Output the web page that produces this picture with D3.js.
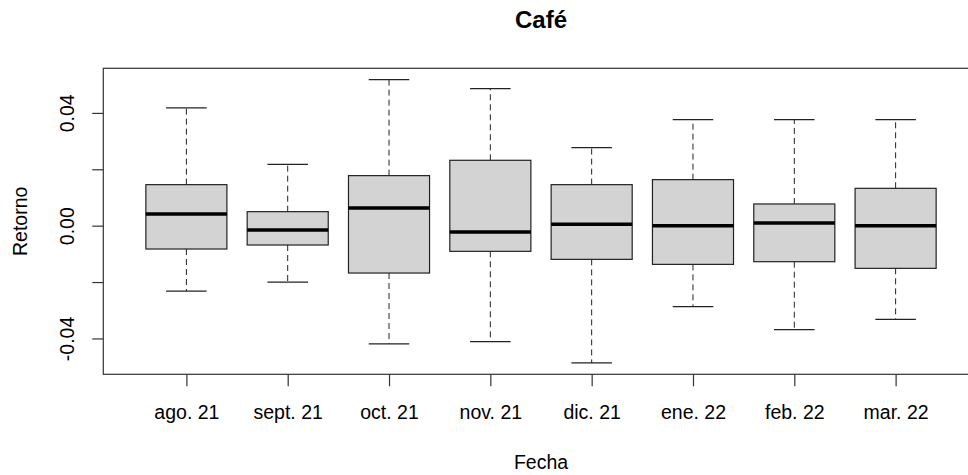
<!DOCTYPE html>
<html>
<head>
<meta charset="utf-8">
<script src="https://cdn.jsdelivr.net/npm/d3@7"></script>
<style>
  html, body { margin: 0; padding: 0; background: #fff; }
  text { font-family: "Liberation Sans", Arial, sans-serif; fill: #000; }
</style>
</head>
<body>
<svg id="chart" width="968" height="475"></svg>
<script>
const categories = ["ago. 21", "sept. 21", "oct. 21", "nov. 21", "dic. 21", "ene. 22", "feb. 22", "mar. 22"];
const whiskerHigh = [0.0418, 0.02177, 0.0518, 0.0486, 0.02768, 0.03762, 0.03762, 0.03762];
const q3 = [0.01455, 0.00497, 0.01775, 0.02319, 0.01455, 0.01633, 0.0077, 0.01325];
const median = [0.00414, -0.00154, 0.00627, -0.00225, 0.00047, 0.0, 0.00095, 0.0];
const q1 = [-0.00828, -0.00686, -0.0168, -0.00911, -0.01195, -0.01373, -0.01278, -0.01514];
const whiskerLow = [-0.0232, -0.0200, -0.0419, -0.0411, -0.0487, -0.02875, -0.0369, -0.03325];
const yTicks = [-0.04, -0.02, 0.00, 0.02, 0.04];
const yTickLabels = ["-0.04", "", "0.00", "", "0.04"];
const chartTitle = "Café";
const xTitle = "Fecha";
const yTitle = "Retorno";

(function () {
const svg = d3.select("#chart");
const n = categories.length;
const pLeft = 103.3, pRight = 978.7, pTop = 68.3, pBottom = 374.3;
const fs = "19.5px";

const x = d3.scaleLinear()
  .domain([0.5 - 0.04 * n, n + 0.5 + 0.04 * n])
  .range([pLeft, pRight]);

const yMin = d3.min(whiskerLow), yMax = d3.max(whiskerHigh);
const ext = (yMax - yMin) * 0.04;
const y = d3.scaleLinear()
  .domain([yMin - ext, yMax + ext])
  .range([pBottom, pTop]);

const data = categories.map((c, i) => ({
  cat: c, pos: i + 1,
  hi: whiskerHigh[i], q3: q3[i], med: median[i], q1: q1[i], lo: whiskerLow[i]
}));

const halfBox = (x(1.4) - x(1));
const halfCap = halfBox / 2;
const lineColor = "#222";

const g = svg.append("g");

g.selectAll(".wu").data(data).enter().append("line")
  .attr("x1", d => x(d.pos)).attr("x2", d => x(d.pos))
  .attr("y1", d => y(d.q3)).attr("y2", d => y(d.hi))
  .attr("stroke", lineColor).attr("stroke-width", 1).attr("stroke-dasharray", "6,4");
g.selectAll(".wl").data(data).enter().append("line")
  .attr("x1", d => x(d.pos)).attr("x2", d => x(d.pos))
  .attr("y1", d => y(d.q1)).attr("y2", d => y(d.lo))
  .attr("stroke", lineColor).attr("stroke-width", 1).attr("stroke-dasharray", "6,4");
g.selectAll(".cu").data(data).enter().append("line")
  .attr("x1", d => x(d.pos) - halfCap).attr("x2", d => x(d.pos) + halfCap)
  .attr("y1", d => y(d.hi)).attr("y2", d => y(d.hi))
  .attr("stroke", lineColor).attr("stroke-width", 1.2);
g.selectAll(".cl").data(data).enter().append("line")
  .attr("x1", d => x(d.pos) - halfCap).attr("x2", d => x(d.pos) + halfCap)
  .attr("y1", d => y(d.lo)).attr("y2", d => y(d.lo))
  .attr("stroke", lineColor).attr("stroke-width", 1.2);
g.selectAll(".box").data(data).enter().append("rect")
  .attr("x", d => x(d.pos) - halfBox)
  .attr("width", 2 * halfBox)
  .attr("y", d => y(d.q3))
  .attr("height", d => y(d.q1) - y(d.q3))
  .attr("fill", "#d3d3d3")
  .attr("stroke", lineColor).attr("stroke-width", 1.2);
g.selectAll(".med").data(data).enter().append("line")
  .attr("x1", d => x(d.pos) - halfBox).attr("x2", d => x(d.pos) + halfBox)
  .attr("y1", d => y(d.med)).attr("y2", d => y(d.med))
  .attr("stroke", "#000").attr("stroke-width", 3.5);

svg.append("rect")
  .attr("x", pLeft).attr("y", pTop)
  .attr("width", pRight - pLeft).attr("height", pBottom - pTop)
  .attr("fill", "none").attr("stroke", "#333").attr("stroke-width", 1.2);

const xAxis = d3.axisBottom(x)
  .tickValues(d3.range(1, n + 1))
  .tickFormat(d => categories[d - 1])
  .tickSize(12).tickPadding(0);
const xg = svg.append("g").attr("transform", `translate(0,${pBottom})`).call(xAxis);
xg.select(".domain").remove();
xg.selectAll(".tick line").attr("stroke", "#333").attr("stroke-width", 1.2);
xg.selectAll(".tick text")
  .attr("y", 45).attr("dy", null)
  .style("font-size", fs).style("font-family", "'Liberation Sans', Arial, sans-serif")
  .attr("fill", "#000");

const yAxis = d3.axisLeft(y)
  .tickValues(yTicks)
  .tickFormat((d, i) => yTickLabels[i])
  .tickSize(11).tickPadding(0);
const yg = svg.append("g").attr("transform", `translate(${pLeft},0)`).call(yAxis);
yg.select(".domain").remove();
yg.selectAll(".tick line").attr("stroke", "#333").attr("stroke-width", 1.2);
yg.selectAll(".tick text")
  .attr("x", null).attr("dy", null)
  .attr("text-anchor", "middle")
  .attr("transform", `translate(${74 - pLeft},0) rotate(-90)`)
  .style("font-size", fs).style("font-family", "'Liberation Sans', Arial, sans-serif")
  .attr("fill", "#000");

svg.append("text")
  .attr("x", (pLeft + pRight) / 2).attr("y", 28)
  .attr("text-anchor", "middle")
  .style("font-size", "24px").style("font-weight", "bold")
  .text(chartTitle);
svg.append("text")
  .attr("x", (pLeft + pRight) / 2).attr("y", 469)
  .attr("text-anchor", "middle")
  .style("font-size", fs)
  .text(xTitle);
svg.append("text")
  .attr("transform", `translate(26.7,${(pTop + pBottom) / 2}) rotate(-90)`)
  .attr("text-anchor", "middle")
  .style("font-size", fs)
  .text(yTitle);
})();
</script>
</body>
</html>
